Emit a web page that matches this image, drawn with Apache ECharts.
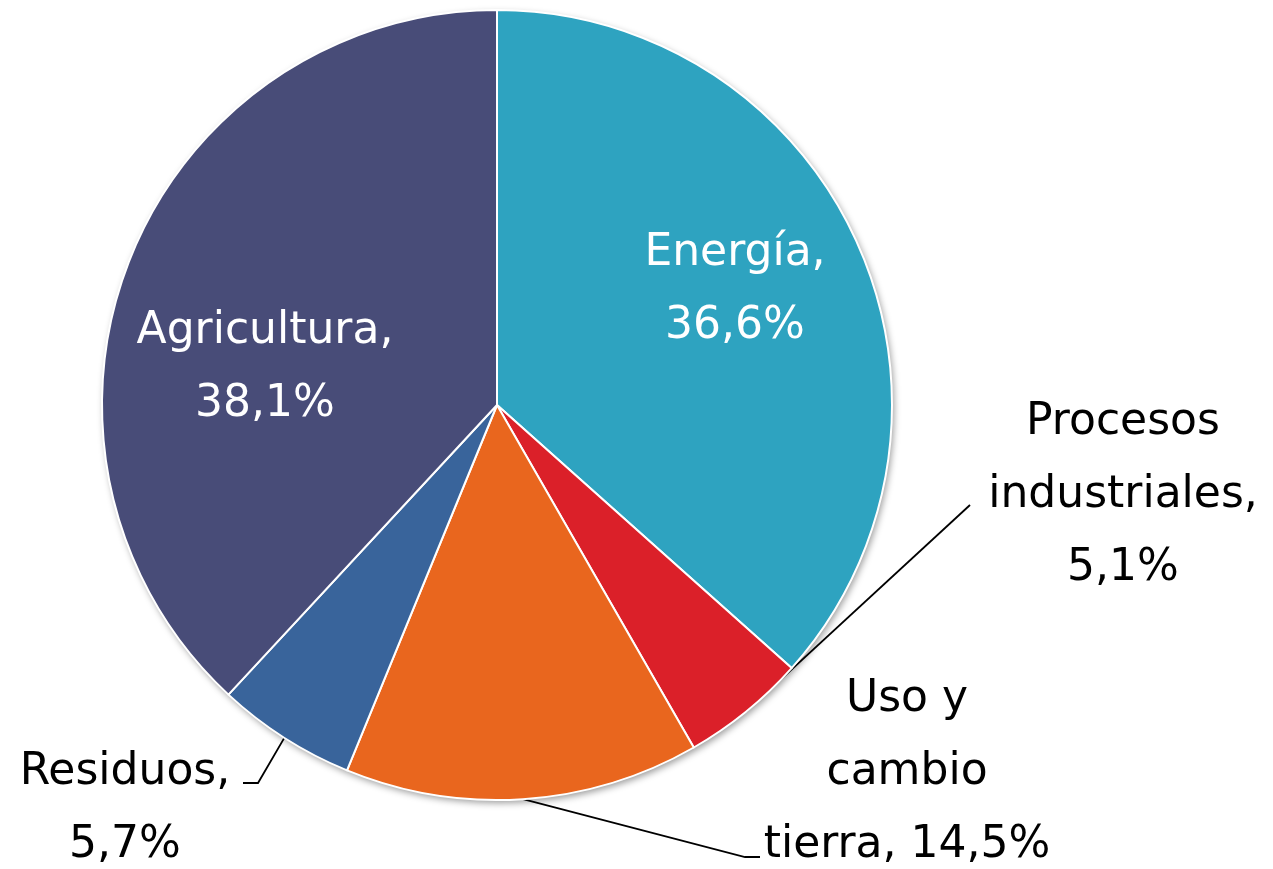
<!DOCTYPE html>
<html>
<head>
<meta charset="utf-8">
<script src="https://cdn.jsdelivr.net/npm/echarts@6/dist/echarts.min.js"></script>
<style>
  html, body { margin: 0; padding: 0; background: #fff; }
  #chart { width: 1273px; height: 869px; }
</style>
</head>
<body>
<div id="chart"></div>
<script>
// categories and shares (%)
const categories = ['Energía', 'Procesos\nindustriales', 'Uso y\ncambio\ntierra', 'Residuos', 'Agricultura']
const shares = [36.6, 5.1, 14.5, 5.7, 38.1]
const colors = ['#2EA3C0', '#DB2029', '#E9661E', '#39649B', '#484C78']
const insideLabel = [true, false, false, false, true]

// label text block centres (px)
const labelPos = [[735, 290], [1123, 496], [907, 773], [125, 809], [265, 368]]
// leader line bend / end, relative to the label centre
const leaderBend = [null, [-153, 9], [-162, 84], [133, -26], null]
const leaderEnd = [null, [-153, 9], [-147, 84], [118, -26], null]

const chart = echarts.init(document.getElementById('chart'))

const fmt = v => v.toFixed(1).replace('.', ',') + '%'

const labelText = i => {
  const lines = categories[i].split('\n')
  if (lines.length === 3) return lines.join('\n') + ', ' + fmt(shares[i])
  return lines.join('\n') + ',\n' + fmt(shares[i])
}

const option = {
  animation: false,
  series: [
    {
      // shadow disc behind the pie
      type: 'pie',
      silent: true,
      center: [497, 405],
      radius: 395,
      z: 1,
      label: { show: false },
      labelLine: { show: false },
      itemStyle: {
        color: '#ffffff',
        shadowBlur: 7,
        shadowOffsetX: 2,
        shadowOffsetY: 3,
        shadowColor: 'rgba(0,0,0,0.4)'
      },
      data: [1]
    },
    {
      type: 'pie',
      center: [497, 405],
      radius: 395,
      z: 2,
      startAngle: 90,
      clockwise: true,
      avoidLabelOverlap: false,
      itemStyle: { borderColor: '#ffffff', borderWidth: 2 },
      label: {
        fontFamily: 'DejaVu Sans',
        fontSize: 44,
        lineHeight: 73,
        align: 'center',
        color: '#000'
      },
      labelLine: {
        show: true,
        length: 20,
        length2: 12,
        lineStyle: { color: '#000', width: 1.8 }
      },
      labelLayout: params => {
        const i = params.dataIndex
        const [x, y] = labelPos[i]
        const res = { x: x, y: y, align: 'center', verticalAlign: 'middle' }
        if (leaderBend[i] && params.labelLinePoints) {
          res.labelLinePoints = [
            params.labelLinePoints[0],
            [x + leaderBend[i][0], y + leaderBend[i][1]],
            [x + leaderEnd[i][0], y + leaderEnd[i][1]]
          ]
        }
        return res
      },
      data: categories.map((name, i) => ({
        name: name,
        value: shares[i],
        itemStyle: { color: colors[i] },
        label: {
          position: insideLabel[i] ? 'inside' : 'outside',
          color: insideLabel[i] ? '#fff' : '#000',
          formatter: labelText(i)
        },
        labelLine: { show: !insideLabel[i] }
      }))
    }
  ]
}

chart.setOption(option)
</script>
</body>
</html>
